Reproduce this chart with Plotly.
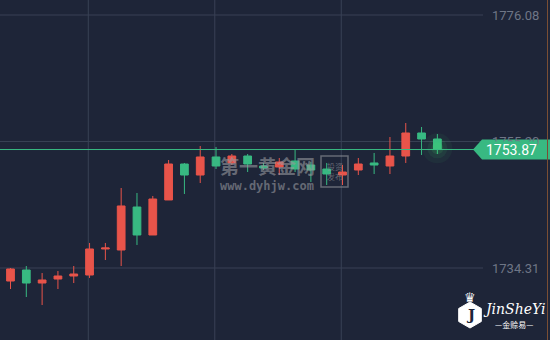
import plotly.graph_objects as go

# ---- data ----
opens  = [1732.16, 1733.98, 1731.83, 1732.49, 1732.99, 1733.15, 1737.45, 1737.28,
          1744.38, 1739.76, 1745.54, 1751.48, 1749.66, 1752.64, 1751.65, 1752.80,
          1751.15, 1750.98, 1751.98, 1751.31, 1750.65, 1749.66, 1750.49, 1751.65,
          1751.15, 1752.80, 1756.60, 1755.61]
highs  = [1734.31, 1734.64, 1733.48, 1733.81, 1734.64, 1738.44, 1738.44, 1747.52,
          1746.69, 1746.20, 1752.14, 1751.65, 1754.45, 1754.29, 1753.13, 1753.13,
          1751.65, 1752.47, 1753.79, 1751.81, 1751.65, 1751.31, 1752.47, 1753.30,
          1755.94, 1758.25, 1757.59, 1756.43]
lows   = [1730.84, 1729.52, 1728.20, 1730.84, 1731.83, 1732.66, 1735.63, 1734.64,
          1738.11, 1739.76, 1745.54, 1746.53, 1748.34, 1750.65, 1751.31, 1750.16,
          1750.49, 1749.66, 1750.16, 1748.51, 1748.01, 1748.01, 1749.66, 1749.83,
          1749.83, 1751.65, 1752.97, 1753.13]
closes = [1734.15, 1731.83, 1732.33, 1732.99, 1733.32, 1737.45, 1737.61, 1744.55,
          1739.76, 1745.70, 1751.48, 1749.66, 1752.64, 1751.15, 1752.80, 1751.48,
          1750.82, 1751.81, 1750.65, 1750.49, 1749.83, 1750.16, 1751.48, 1751.31,
          1752.80, 1756.60, 1755.61, 1753.87]
bar_idx = list(range(len(opens)))
last_price = 1753.87
tick_vals = [1776.08, 1755.20, 1734.31]
tick_text = ["1776.08", "1755.20", "1734.31"]
vgrid_idx = [5, 13, 21]

# ---- styling ----
W, H = 550, 340
BG = "#1e2538"
RED = "#e8544a"
GREEN = "#38b982"
GRID = "#394155"
WM = "rgba(150,152,158,0.6)"

px_per_bar = 15.81
xr0 = -10.5 / px_per_bar
xr1 = xr0 + W / px_per_bar
px_per_unit = 6.057
ymax = 1734.31 + 268 / px_per_unit
ymin = ymax - H / px_per_unit

fig = go.Figure()

# glow behind last candle
for s, a in [(30, 0.05), (20, 0.08), (12, 0.12)]:
    fig.add_trace(go.Scatter(x=[bar_idx[-1]], y=[last_price + 0.2], mode="markers",
                             marker=dict(size=s, color=f"rgba(70,230,110,{a})", line=dict(width=0)),
                             hoverinfo="skip", showlegend=False))

fig.add_trace(go.Candlestick(
    x=bar_idx, open=opens, high=highs, low=lows, close=closes,
    increasing=dict(line=dict(color=RED, width=1), fillcolor=RED),
    decreasing=dict(line=dict(color=GREEN, width=1), fillcolor=GREEN),
    whiskerwidth=0, showlegend=False,
))

shapes = []
# horizontal grid lines
for v in tick_vals:
    shapes.append(dict(type="line", xref="paper", yref="y", x0=0, x1=483 / W, y0=v, y1=v,
                       line=dict(color=GRID, width=1), layer="below"))
# vertical grid lines
for i in vgrid_idx:
    shapes.append(dict(type="line", xref="x", yref="paper", x0=i - 0.08, x1=i - 0.08, y0=0, y1=1,
                       line=dict(color=GRID, width=1), layer="below"))
# price line
shapes.append(dict(type="line", xref="paper", yref="y", x0=0, x1=474 / W, y0=last_price, y1=last_price,
                   line=dict(color=GREEN, width=1)))
# price tag
hh = 10 / px_per_unit
p = last_price
shapes.append(dict(type="path", xref="paper", yref="y",
                   path=f"M {473/W},{p} L {482/W},{p+hh} L 1,{p+hh} L 1,{p-hh} L {482/W},{p-hh} Z",
                   fillcolor=GREEN, line=dict(width=0)))
# right border line
shapes.append(dict(type="line", xref="paper", yref="paper", x0=547.5 / W, x1=547.5 / W, y0=0, y1=1,
                   line=dict(color="#7a4e34", width=1)))
# watermark box
shapes.append(dict(type="rect", xref="paper", yref="paper", x0=321 / W, x1=348 / W,
                   y0=1 - 187 / H, y1=1 - 156 / H, line=dict(color=WM, width=1.5),
                   fillcolor="rgba(0,0,0,0)"))
# logo hexagon
cx, cy, r = 470 / W, 1 - 315 / H, 13
hex_pts = [(0, -1), (0.87, -0.5), (0.87, 0.5), (0, 1), (-0.87, 0.5), (-0.87, -0.5)]
path = "M " + " L ".join(f"{cx + dx * r / W},{cy + dy * r / H}" for dx, dy in hex_pts) + " Z"
shapes.append(dict(type="path", xref="paper", yref="paper", path=path,
                   fillcolor="white", line=dict(color="white", width=1)))

annotations = []
for v, t in zip(tick_vals, tick_text):
    annotations.append(dict(x=541 / W, xref="paper", y=v, yref="y", text=t, showarrow=False,
                            xanchor="right", yanchor="middle",
                            font=dict(family="Roboto, Liberation Sans, sans-serif", size=13, color="#6f7686")))
annotations.append(dict(x=511 / W, xref="paper", y=p, yref="y", text=f"{last_price:.2f}", showarrow=False,
                        xanchor="center", yanchor="middle", bgcolor=GREEN, borderpad=0,
                        font=dict(family="Roboto, Liberation Sans, sans-serif", size=14, color="white")))
annotations.append(dict(x=267 / W, xref="paper", y=1 - 165 / H, yref="paper", text="<b>第一黄金网</b>",
                        showarrow=False, xanchor="center", yanchor="middle",
                        font=dict(family="Noto Sans CJK SC", size=19, color=WM)))
annotations.append(dict(x=267 / W, xref="paper", y=1 - 186 / H, yref="paper", text="<b>www.dyhjw.com</b>",
                        showarrow=False, xanchor="center", yanchor="middle",
                        font=dict(family="DejaVu Sans Mono", size=12, color=WM)))
annotations.append(dict(x=334.5 / W, xref="paper", y=1 - 171.5 / H, yref="paper", text="投资<br>发布",
                        showarrow=False, xanchor="center", yanchor="middle",
                        font=dict(family="Noto Sans CJK SC", size=8, color=WM)))
annotations.append(dict(x=470 / W, xref="paper", y=1 - 315 / H, yref="paper", text="<b>J</b>",
                        showarrow=False, xanchor="center", yanchor="middle",
                        font=dict(family="DejaVu Serif", size=15, color=BG)))
annotations.append(dict(x=470 / W, xref="paper", y=1 - 297 / H, yref="paper", text="♛",
                        showarrow=False, xanchor="center", yanchor="middle",
                        font=dict(family="DejaVu Sans", size=13, color="white")))
annotations.append(dict(x=514 / W, xref="paper", y=1 - 309 / H, yref="paper", text="<i>JinSheYi</i>",
                        showarrow=False, xanchor="center", yanchor="middle",
                        font=dict(family="DejaVu Serif", size=14, color="white")))
annotations.append(dict(x=514 / W, xref="paper", y=1 - 324 / H, yref="paper", text="—金赊易—",
                        showarrow=False, xanchor="center", yanchor="middle",
                        font=dict(family="Noto Sans CJK SC", size=8, color="white")))

fig.update_layout(
    width=W, height=H, margin=dict(l=0, r=0, t=0, b=0),
    paper_bgcolor=BG, plot_bgcolor=BG,
    xaxis=dict(range=[xr0, xr1], visible=False, rangeslider=dict(visible=False), fixedrange=True),
    yaxis=dict(range=[ymin, ymax], visible=False, fixedrange=True),
    shapes=shapes, annotations=annotations, showlegend=False,
)

fig.write_html("out.html")
